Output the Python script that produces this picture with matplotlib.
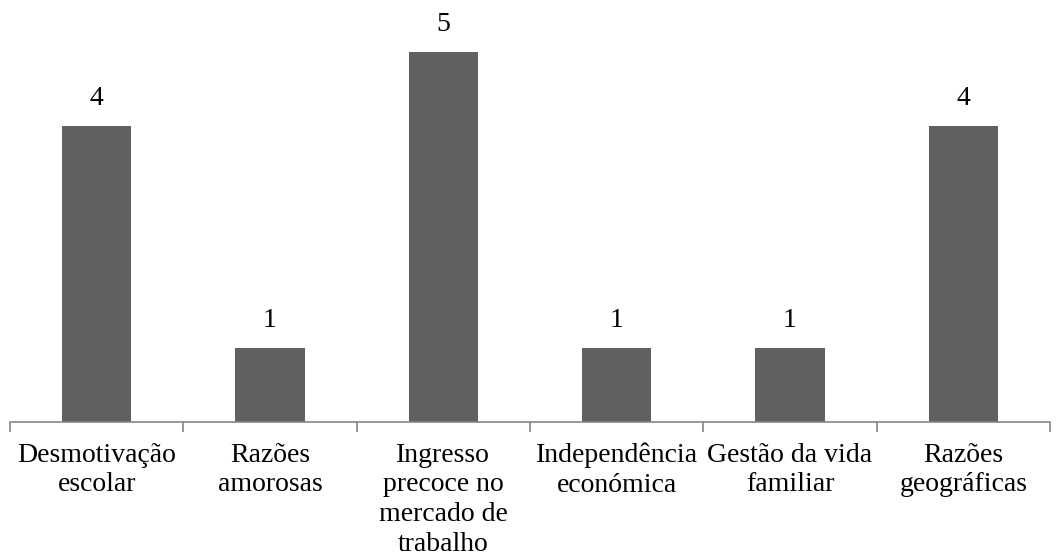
import matplotlib
matplotlib.use("Agg")
import matplotlib.pyplot as plt

categories = ["Desmotivação\nescolar", "Razões\namorosas", "Ingresso\nprecoce no\nmercado de\ntrabalho",
              "Independência\neconómica", "Gestão da vida\nfamiliar", "Razões\ngeográficas"]
values = [4, 1, 5, 1, 1, 4]

plt.rcParams['font.family'] = ['Liberation Serif', 'DejaVu Serif']

fig = plt.figure(figsize=(10.57, 5.56), dpi=100)
ax = fig.add_axes([10/1057, 1 - 422/556, 1040/1057, 422/556])
x = list(range(len(categories)))
ax.bar(x, values, width=0.40, color="#606060")
ax.set_xlim(-0.5, len(categories) - 0.5)
ax.set_ylim(0, 422/74)
for xi, v in zip(x, values):
    ax.annotate(str(v), (xi, v), xytext=(0, 11), textcoords="offset points",
                ha="center", va="bottom", fontsize=20, color="black")
for s in ["top", "right", "left"]:
    ax.spines[s].set_visible(False)
ax.spines["bottom"].set_color("#868686")
ax.spines["bottom"].set_linewidth(1.2)
ax.set_yticks([])
ax.set_xticks(x)
ax.set_xticklabels(categories, fontsize=20, linespacing=1.24)
ax.tick_params(axis="x", length=0, pad=15)
ax.set_xticks([i - 0.5 for i in range(len(categories) + 1)], minor=True)
ax.tick_params(axis="x", which="minor", length=7, color="#868686", width=1.2)
fig.savefig("out.png", dpi=100)
